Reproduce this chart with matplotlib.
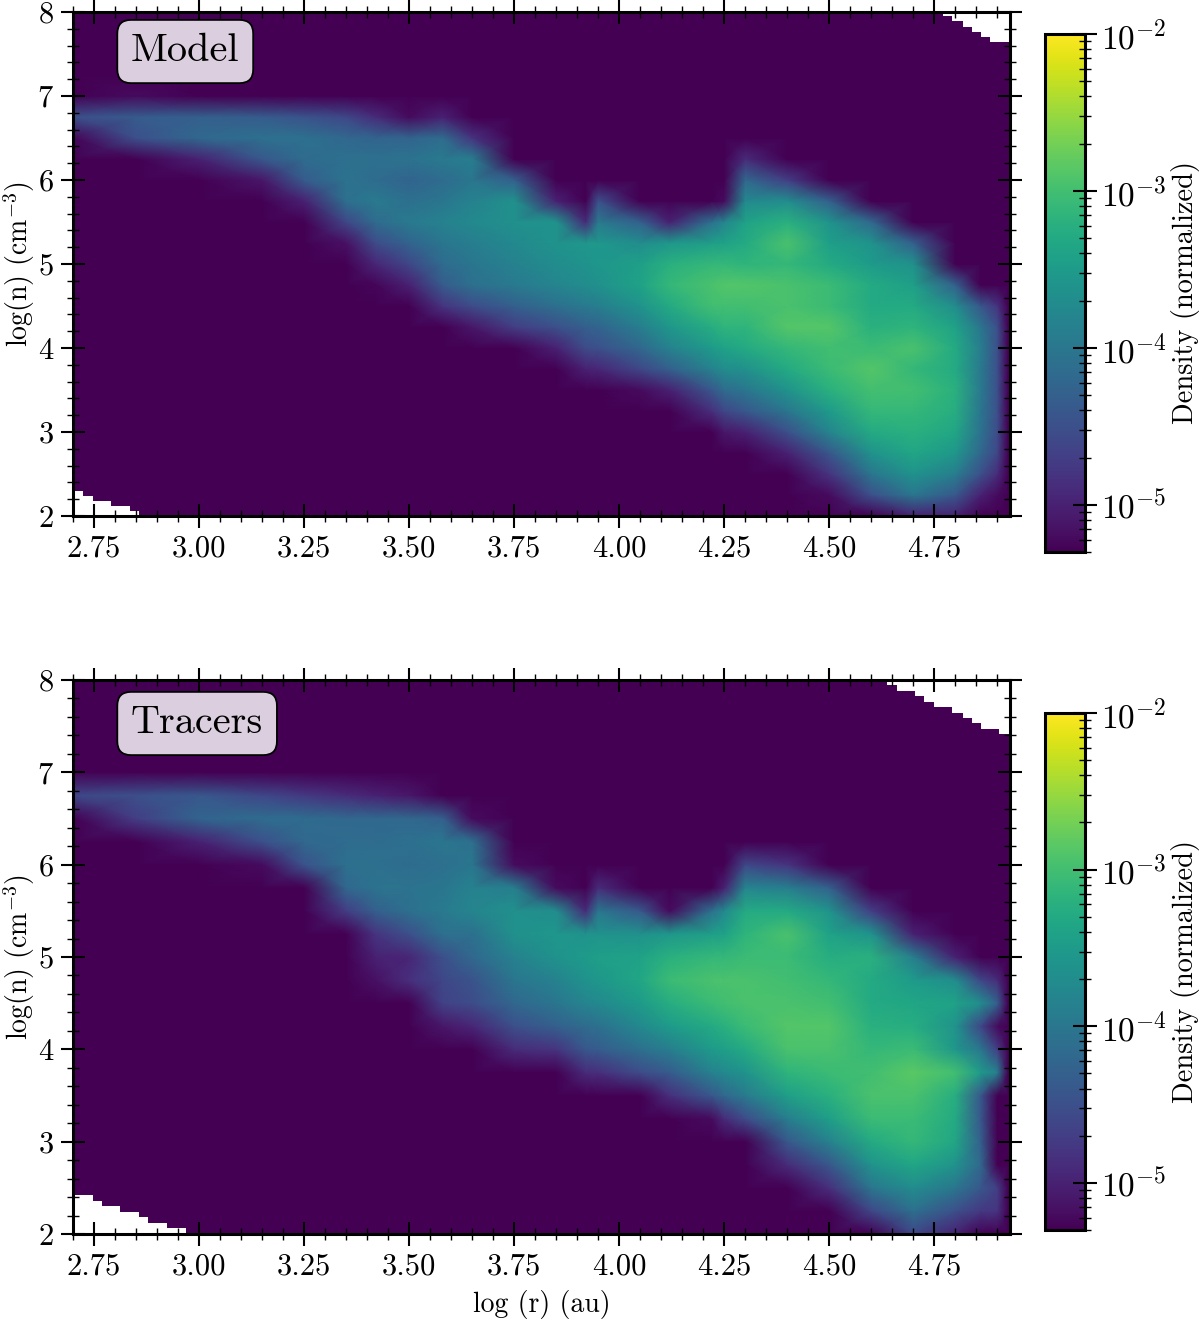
import numpy as np
import matplotlib
matplotlib.use("Agg")
import matplotlib.pyplot as plt
from matplotlib.colors import LogNorm
from matplotlib.ticker import AutoMinorLocator, FormatStrFormatter

plt.rcParams['font.family'] = ['cmr10', 'DejaVu Serif']
plt.rcParams['mathtext.fontset'] = 'cm'
plt.rcParams['axes.formatter.use_mathtext'] = True

_ = -6.0   # nothing there, below the colour scale

# log10 density, one line per log(r) column, values at log(n) = y_rows
x_cols = [2.7, 2.85, 3.0, 3.15, 3.25, 3.35, 3.42, 3.5, 3.58, 3.65, 3.75, 3.85, 3.92, 3.95,
          4.05, 4.12, 4.22, 4.25, 4.3, 4.4, 4.5, 4.6, 4.7, 4.8, 4.86, 4.9, 4.925]
y_rows = [2.0, 2.25, 2.5, 2.75, 3.0, 3.25, 3.5, 3.75, 4.0, 4.25, 4.5, 4.75, 5.0, 5.25, 5.5,
          5.75, 6.0, 6.25, 6.5, 6.75, 7.0, 7.25]

model_logd = [
    [_, _, _, _, _, _, _, _, _, _, _, _, _, _, _, _, _, _, -5.25, -4.5, -5.3, _],
    [_, _, _, _, _, _, _, _, _, _, _, _, _, _, _, _, _, -5.4, -4.5, -4.35, -5.2, _],
    [_, _, _, _, _, _, _, _, _, _, _, _, _, _, _, _, _, -5.0, -4.2, -4.3, -5.35, _],
    [_, _, _, _, _, _, _, _, _, _, _, _, _, _, _, _, -5.1, -4.4, -4.1, -4.35, -5.5, _],
    [_, _, _, _, _, _, _, _, _, _, _, _, _, _, _, -5.0, -4.35, -4.15, -4.1, -4.45, _, _],
    [_, _, _, _, _, _, _, _, _, _, _, _, -5.5, -5.15, -4.6, -4.1, -4.05, -4.1, -4.2, -4.6, _, _],
    [_, _, _, _, _, _, _, _, _, _, -5.7, -5.25, -4.95, -4.55, -4.15, -3.95, -4.15, -4.1, -4.25, -4.9, _, _],
    [_, _, _, _, _, _, _, _, _, _, -5.7, -5.0, -4.6, -4.25, -3.95, -4.1, -4.25, -4.05, -4.25, -5.2, _, _],
    [_, _, _, _, _, _, _, _, _, -5.4, -4.8, -4.35, -4.15, -4.0, -3.85, -4.0, -4.15, -3.95, -4.15, -5.0, _, _],
    [_, _, _, _, _, _, _, _, _, -5.1, -4.55, -4.1, -4.0, -3.9, -3.75, -3.85, -4.0, -3.9, -4.8, _, _, _],
    [_, _, _, _, _, _, _, _, -5.3, -4.7, -4.3, -3.95, -3.85, -3.75, -3.65, -3.65, -4.3, _, _, _, _, _],
    [_, _, _, _, _, _, _, _, -5.0, -4.5, -4.1, -3.8, -3.7, -3.6, -3.6, -5.0, _, _, _, _, _, _],
    [_, _, _, _, _, _, _, -5.0, -4.55, -4.3, -3.95, -3.7, -3.6, -3.55, -4.9, _, _, _, _, _, _, _],
    [_, _, _, _, _, _, _, -4.95, -4.5, -4.25, -3.9, -3.65, -3.55, -3.55, -3.95, -4.5, _, _, _, _, _, _],
    [_, _, _, _, _, _, -5.2, -4.6, -4.2, -3.9, -3.6, -3.4, -3.45, -3.7, -4.3, _, _, _, _, _, _, _],
    [_, _, _, _, _, _, -5.0, -4.3, -3.85, -3.55, -3.3, -3.1, -3.2, -3.55, -5.0, _, _, _, _, _, _, _],
    [_, _, _, _, -5.5, -4.85, -4.4, -3.85, -3.5, -3.25, -3.0, -2.95, -3.1, -3.45, -4.1, _, _, _, _, _, _, _],
    [_, _, _, _, -5.1, -4.6, -4.15, -3.7, -3.4, -3.15, -3.0, -2.9, -3.1, -3.4, -3.8, -5.2, _, _, _, _, _, _],
    [_, _, _, -5.5, -5.0, -4.4, -4.0, -3.65, -3.3, -3.15, -3.0, -2.9, -3.15, -3.3, -3.4, -3.75, -4.2, -4.9, _, _, _, _],
    [_, _, _, -5.0, -4.5, -4.0, -3.6, -3.3, -3.1, -2.88, -2.95, -2.95, -3.1, -2.95, -3.2, -3.7, -4.7, _, _, _, _, _],
    [_, -5.2, -4.8, -4.4, -3.8, -3.5, -3.2, -3.05, -3.0, -2.88, -3.05, -3.05, -3.3, -3.45, -3.6, -4.3, _, _, _, _, _, _],
    [_, -4.5, -4.0, -3.6, -3.3, -3.1, -2.98, -2.88, -3.05, -3.2, -3.3, -3.3, -3.5, -3.6, -4.2, -5.6, _, _, _, _, _, _],
    [-5.0, -4.0, -3.6, -3.35, -3.2, -3.1, -3.0, -3.1, -2.95, -3.15, -3.3, -3.45, -3.65, -4.3, -5.5, _, _, _, _, _, _, _],
    [-5.0, -4.4, -3.9, -3.55, -3.35, -3.25, -3.2, -3.3, -3.3, -3.4, -3.7, -4.3, -5.4, _, _, _, _, _, _, _, _, _],
    [-5.6, -5.0, -4.5, -4.2, -4.05, -4.0, -3.95, -3.95, -3.9, -4.0, -4.4, -5.3, _, _, _, _, _, _, _, _, _, _],
    [-5.6, -5.2, -4.9, -4.6, -4.55, -4.5, -4.5, -4.5, -4.5, -4.5, -4.8, _, _, _, _, _, _, _, _, _, _, _],
    [_, _, _, _, _, _, _, _, _, _, _, _, _, _, _, _, _, _, _, _, _, _],
]

tracers_logd = [
    [_, _, _, _, _, _, _, _, _, _, _, _, _, _, _, _, _, _, -5.3, -4.6, _, _],
    [_, _, _, _, _, _, _, _, _, _, _, _, _, _, _, _, _, -5.5, -4.7, -4.5, _, _],
    [_, _, _, _, _, _, _, _, _, _, _, _, _, _, _, _, _, -5.0, -4.25, -4.4, _, _],
    [_, _, _, _, _, _, _, _, _, _, _, _, _, _, _, _, -5.2, -4.5, -4.15, -4.6, _, _],
    [_, _, _, _, _, _, _, _, _, _, _, _, _, _, _, -5.3, -4.45, -4.2, -4.15, -4.75, _, _],
    [_, _, _, _, _, _, _, _, _, _, _, _, _, -5.6, -4.7, -4.2, -4.1, -4.15, -4.2, -4.9, _, _],
    [_, _, _, _, _, _, _, _, _, _, _, -5.15, -5.0, -4.8, -4.3, -4.05, -4.1, -4.15, -4.2, -5.0, _, _],
    [_, _, _, _, _, _, _, _, _, _, -5.4, -4.85, -4.95, -4.5, -4.1, -4.05, -4.15, -4.1, -4.2, -5.1, _, _],
    [_, _, _, _, _, _, _, _, _, -5.1, -4.65, -4.6, -4.5, -4.1, -3.95, -4.0, -4.1, -4.0, -4.3, -5.4, _, _],
    [_, _, _, _, _, _, _, _, _, -4.95, -4.55, -4.45, -4.2, -4.1, -3.8, -3.85, -4.0, -4.1, -5.2, _, _, _],
    [_, _, _, _, _, _, _, _, -4.9, -4.5, -4.2, -4.0, -3.85, -3.65, -3.65, -3.9, -5.2, _, _, _, _, _],
    [_, _, _, _, _, _, _, _, -4.8, -4.3, -4.0, -3.85, -3.6, -3.55, -3.7, -5.2, _, _, _, _, _, _],
    [_, _, _, _, _, _, _, -4.9, -4.4, -4.15, -3.8, -3.6, -3.5, -3.6, -4.9, _, _, _, _, _, _, _],
    [_, _, _, _, _, _, _, -4.85, -4.35, -4.1, -3.75, -3.55, -3.45, -3.6, -4.0, -4.9, _, _, _, _, _, _],
    [_, _, _, _, _, _, -5.3, -4.55, -4.1, -3.75, -3.5, -3.35, -3.4, -3.65, -4.4, _, _, _, _, _, _, _],
    [_, _, _, _, _, _, -4.85, -4.35, -3.9, -3.5, -3.25, -3.05, -3.2, -3.55, -5.2, _, _, _, _, _, _, _],
    [_, _, _, _, _, -5.2, -4.4, -3.85, -3.5, -3.3, -3.05, -2.95, -3.1, -3.45, -4.1, _, _, _, _, _, _, _],
    [_, _, _, _, _, -4.9, -4.2, -3.75, -3.45, -3.2, -3.0, -2.95, -3.1, -3.4, -3.75, -5.0, _, _, _, _, _, _],
    [_, _, _, _, -5.4, -4.55, -3.95, -3.6, -3.3, -3.05, -2.95, -2.95, -3.05, -3.15, -3.3, -3.8, -4.6, _, _, _, _, _],
    [_, _, -5.3, -4.9, -4.4, -3.9, -3.45, -3.15, -2.95, -2.88, -2.95, -3.0, -3.05, -2.95, -3.3, -3.9, -4.8, _, _, _, _, _],
    [_, -5.3, -4.85, -4.4, -3.85, -3.45, -3.2, -3.05, -2.95, -2.9, -3.0, -3.1, -3.25, -3.4, -3.6, -4.3, _, _, _, _, _, _],
    [-5.5, -4.6, -4.0, -3.6, -3.3, -3.05, -2.95, -3.0, -3.1, -3.2, -3.3, -3.3, -3.2, -3.6, -4.7, _, _, _, _, _, _, _],
    [-4.6, -4.1, -3.7, -3.35, -3.1, -3.05, -2.95, -2.85, -3.05, -3.25, -3.35, -3.5, -3.9, -5.0, _, _, _, _, _, _, _, _],
    [-5.0, -4.5, -4.0, -3.6, -3.35, -3.3, -3.25, -3.0, -3.55, -3.6, -3.4, -3.7, -5.0, _, _, _, _, _, _, _, _, _],
    [-5.4, -4.75, -4.4, -4.2, -4.3, -4.4, -4.4, -3.5, -4.0, -4.6, -3.7, -4.6, _, _, _, _, _, _, _, _, _, _],
    [-5.4, -4.8, -4.7, -5.3, -5.5, -5.5, -5.5, -3.9, -4.7, -5.2, -4.3, -4.9, _, _, _, _, _, _, _, _, _, _],
    [_, _, _, _, _, _, _, _, _, _, _, _, _, _, _, _, _, _, _, _, _, _],
]

# empty corners of the histograms (stair edges and heights)
model_low_edges = [2.70, 2.724, 2.748, 2.79, 2.836, 2.857]
model_low_tops = [2.30, 2.24, 2.18, 2.12, 2.06]
model_high_edges = [4.771, 4.793, 4.817, 4.84, 4.862, 4.883, 4.93]
model_high_bottoms = [7.95, 7.89, 7.82, 7.76, 7.70, 7.64]

tracers_low_edges = [2.70, 2.748, 2.769, 2.812, 2.857, 2.879, 2.924, 2.969]
tracers_low_tops = [2.42, 2.36, 2.30, 2.24, 2.18, 2.12, 2.065]
tracers_high_edges = [4.638, 4.662, 4.705, 4.726, 4.75, 4.793, 4.817, 4.84, 4.862, 4.905, 4.93]
tracers_high_bottoms = [7.95, 7.88, 7.83, 7.76, 7.71, 7.64, 7.59, 7.53, 7.47, 7.41]

W, H = 1200, 1320


def px_axes(x0, y0, x1, y1):
    return fig.add_axes([x0 / W, 1 - y1 / H, (x1 - x0) / W, (y1 - y0) / H])


def style_ticks(ax, **kw):
    ax.tick_params(which='major', direction='inout', length=17, width=1.5, **kw)
    ax.tick_params(which='minor', direction='inout', length=9, width=1.0, **kw)
    for s in ax.spines.values():
        s.set_linewidth(2.2)


fig = plt.figure(figsize=(W / 100, H / 100), dpi=100)
norm = LogNorm(vmin=5e-6, vmax=1e-2)
cmap = plt.get_cmap('viridis')


def panel(box, cbox, logd, low_e, low_t, high_e, high_b, name, name_y, xlabel=None):
    ax = px_axes(*box)
    ax.set_facecolor(cmap(0.0))
    z = 10.0 ** np.array(logd).T
    m = ax.pcolormesh(x_cols, y_rows, z, norm=norm, cmap=cmap, shading='gouraud')
    ax.stairs(low_t, low_e, baseline=2, fill=True, color='white', lw=0, zorder=2)
    ax.stairs(high_b, high_e, baseline=8, fill=True, color='white', lw=0, zorder=2)
    ax.set_xlim(2.7, 4.93)
    ax.set_ylim(2, 8)
    ax.set_xticks([2.75, 3.0, 3.25, 3.5, 3.75, 4.0, 4.25, 4.5, 4.75])
    ax.xaxis.set_major_formatter(FormatStrFormatter('%.2f'))
    ax.xaxis.set_minor_locator(AutoMinorLocator(5))
    ax.yaxis.set_minor_locator(AutoMinorLocator(5))
    style_ticks(ax, top=True, right=True, labelsize=22, pad=5)
    ax.set_axisbelow(False)
    ax.set_ylabel(r'log(n) (cm$^{-3}$)', fontsize=20, labelpad=0)
    if xlabel:
        ax.set_xlabel(xlabel, fontsize=20, labelpad=7)
    ax.text(0.0619, name_y, name, fontsize=29, ha='left', va='center',
            transform=ax.transAxes,
            bbox=dict(boxstyle='round,pad=0.34', fc='#dbcfdf', ec='black', lw=1.3))

    cax = px_axes(*cbox)
    cb = fig.colorbar(m, cax=cax)
    cb.set_ticks([1e-5, 1e-4, 1e-3, 1e-2])
    cb.set_label('Density (normalized)', fontsize=20.5, labelpad=3)
    style_ticks(cax, right=True, left=False, labelsize=24, pad=3)
    cb.outline.set_linewidth(2.2)
    return ax


ax1 = panel((73, 12, 1010, 516), (1045, 34, 1085, 552), model_logd, model_low_edges,
            model_low_tops, model_high_edges, model_high_bottoms, 'Model', 0.9216)
ax2 = panel((73, 680, 1010, 1234), (1045, 713, 1085, 1230), tracers_logd, tracers_low_edges,
            tracers_low_tops, tracers_high_edges, tracers_high_bottoms, 'Tracers', 0.9215,
            'log (r) (au)')

fig.savefig('out.png', dpi=100)
